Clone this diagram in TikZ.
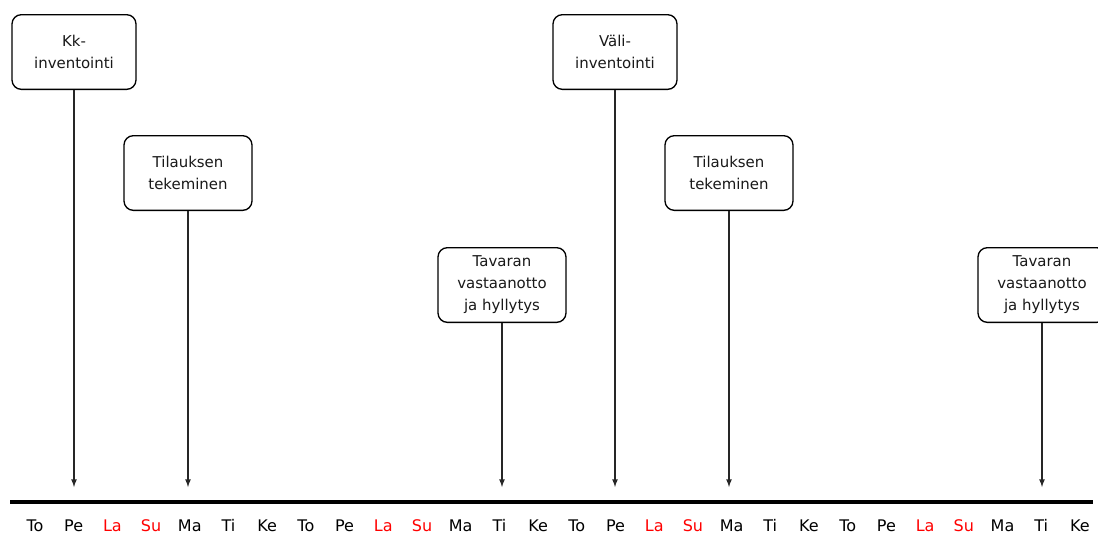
\documentclass[tikz,border=0pt]{standalone}
\usepackage{fontspec}
\setmainfont{DejaVu Sans}
\usetikzlibrary{arrows,positioning}
\usepackage{xcolor}

\begin{document}
\begin{tikzpicture}[x=0.75pt, y=-0.75pt,
    every node/.style={
    font=\fontsize{11.2pt}{16.5pt}\selectfont,
    text=black!90
},
    event/.style={
    rectangle,
    rounded corners=7pt,
    draw,
    line width=1pt,
    fill=white,
    align=center,
    minimum width=96pt,
    minimum height=56pt,
    inner sep=2pt
},
    marker/.style={->, >=latex, line width=1pt, black!85},
    dayname/.style={font=\fontsize{12pt}{14pt}\selectfont, text height=1.6ex, text depth=0.3ex}
]
    \useasboundingbox (0,0) rectangle (1098,537);

    \node (kk_inventointi) [event, minimum width=93pt, shift={(74, 52)}]
    {
        Kk-\\inventointi
    };
    \node (tilaus_1) [event, shift={(188, 173)}]
    {
        Tilauksen\\tekeminen
    };
    \node (vastaanotto_1) [event, shift={(502, 285)}]
    {
        Tavaran\\vastaanotto\\ja hyllytys
    };


    \node (vali_inventointi) [event, minimum width=93pt, shift={(615, 52)}]
    {
        Väli-\\inventointi
    };
    \node (tilaus_2) [event, shift={(729, 173)}]
    {
        Tilauksen\\tekeminen
    };
    \node (vastaanotto_2) [event, shift={(1042, 285)}]
    {
        Tavaran\\vastaanotto\\ja hyllytys
    };

    % aikajana
    \coordinate (line_start) at (10, 502);
    \coordinate (line_end) at (1093, 502);
    \draw[line width=3pt] (line_start) -- (line_end);

    \foreach \d/\c [count=\i from 0] in {To/black, Pe/black, La/red, Su/red, Ma/black, Ti/black, Ke/black,
        To/black, Pe/black, La/red, Su/red, Ma/black, Ti/black, Ke/black,
        To/black, Pe/black, La/red, Su/red, Ma/black, Ti/black, Ke/black,
        To/black, Pe/black, La/red, Su/red, Ma/black, Ti/black, Ke/black}
    {
        \node (day_\i) [dayname, text=\c, shift={(35+38.7*\i, 527)}] {\d};
    }

    \coordinate (tip_1) at (74, 487);
    \coordinate (tip_2) at (188, 487);
    \coordinate (tip_3) at (502, 487);
    \coordinate (tip_4) at (615, 487);
    \coordinate (tip_5) at (729, 487);
    \coordinate (tip_6) at (1042, 487);

    \draw[marker] (kk_inventointi) to (tip_1);
    \draw[marker] (tilaus_1) to (tip_2);
    \draw[marker] (vastaanotto_1) to (tip_3);
    \draw[marker] (vali_inventointi) to (tip_4);
    \draw[marker] (tilaus_2) to (tip_5);
    \draw[marker] (vastaanotto_2) to (tip_6);
\end{tikzpicture}
\end{document}
